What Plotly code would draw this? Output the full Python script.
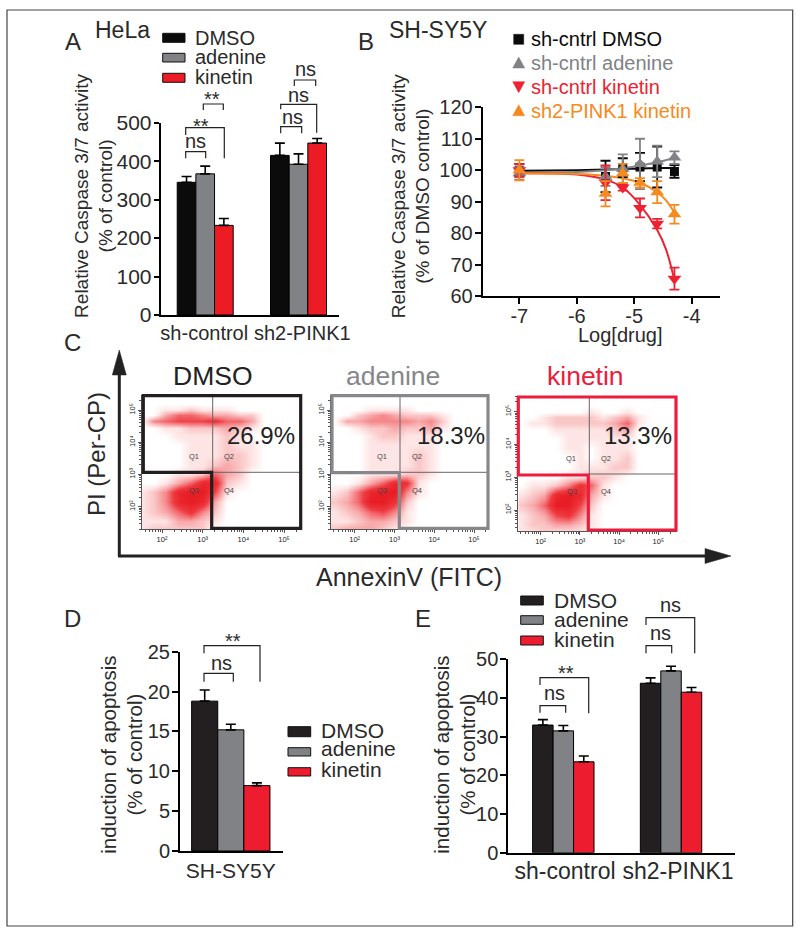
import plotly.graph_objects as go

W, H = 800, 933
TXT = "#2a2a2a"
FONT = "Liberation Sans"
BLK, GRY, RED = "#0b0b0b", "#808285", "#ed1c24"
DARK2, RED2, ORG = "#231f20", "#ed1c2e", "#f58a20"
GATE_COL = ["#231f20", "#85878a", "#ed1c3c"]

# ---------- data ----------
treat = ["DMSO", "adenine", "kinetin"]
groups = ["sh-control", "sh2-PINK1"]
a_dmso, a_aden, a_kin = [345, 415], [367, 392], [233, 447]
a_dmso_e, a_aden_e, a_kin_e = [15, 32], [20, 27], [18, 12]

e_dmso, e_aden, e_kin = [33, 43.8], [31.5, 47], [23.5, 41.5]
e_dmso_e, e_aden_e, e_kin_e = [1.4, 1.4], [1.4, 1.2], [1.5, 1.2]

d_group = ["SH-SY5Y"]
d_dmso, d_aden, d_kin = [18.8], [15.2], [8.2]
d_dmso_e, d_aden_e, d_kin_e = [1.4], [0.7], [0.35]

b_x = [-7, -5.5, -5.2, -4.9, -4.6, -4.3]
b_dmso = [100, 98, 100.8, 101, 101, 99.6]
b_dmso_e = [2, 5, 3, 4.5, 6.5, 2]
b_aden = [99, 98, 100.5, 102, 102.8, 104]
b_aden_e = [2, 3, 4.5, 8, 5, 2]
b_kin = [100, 96, 94.5, 88, 83, 65.5]
b_kin_e = [2, 5.5, 1, 3, 1.5, 3.5]
b_sh2 = [100, 92.5, 99, 96, 93, 86]
b_sh2_e = [3.2, 4, 3, 1.5, 3.5, 3]

fit_x = [-7, -6, -5.5, -5.2, -4.9, -4.6, -4.45, -4.3]
fit_dmso = [99.8, 100, 100.2, 100.4, 100.5, 100.7, 100.7, 100.8]
fit_aden = [99, 99.4, 100, 100.6, 101.4, 102.5, 103.2, 104]
fit_kin = [99, 98.6, 97, 94.5, 89, 81, 75, 65]
fit_sh2 = [99, 98.8, 98.2, 97.4, 96, 93, 90.5, 86.5]

# flow cytometry density (0 empty .. 9 solid red), top row first
flow_x = [1.5, 1.8, 2.1, 2.4, 2.7, 3.0, 3.3, 3.6, 3.9, 4.2, 4.5, 4.8, 5.1, 5.4]
flow_y = [5.5, 5.2, 5.0, 4.85, 4.65, 4.45, 4.2, 3.9, 3.6, 3.3, 3.0, 2.75, 2.45, 2.15, 1.85, 1.55, 1.3]
flow_dmso = [
    [0, 0, 0, 0, 0, 0, 0, 0, 0, 0, 0, 0, 0, 0],
    [0, 0, 0, 0, 0, 0, 0, 0, 0, 0, 0, 0, 0, 0],
    [0, 0, 1, 1, 2, 1, 1, 1, 0, 0, 0, 0, 0, 0],
    [0, 0, 3, 5, 5, 4, 3, 3, 2, 2, 0, 0, 0, 0],
    [0, 4, 5, 6, 6, 6, 7, 5, 5, 3, 0, 0, 0, 0],
    [0, 0, 1, 1, 2, 2, 2, 3, 2, 1, 0, 0, 0, 0],
    [0, 0, 0, 1, 1, 1, 1, 2, 1, 0, 0, 0, 0, 0],
    [0, 0, 0, 0, 1, 1, 1, 2, 1, 1, 0, 0, 0, 0],
    [0, 0, 0, 0, 1, 1, 1, 2, 2, 1, 0, 0, 0, 0],
    [0, 0, 0, 0, 1, 1, 2, 3, 2, 1, 0, 0, 0, 0],
    [0, 0, 0, 1, 1, 2, 5, 3, 2, 0, 0, 0, 0, 0],
    [0, 0, 1, 3, 5, 8, 8, 2, 1, 0, 0, 0, 0, 0],
    [1, 2, 4, 8, 9, 9, 6, 1, 0, 0, 0, 0, 0, 0],
    [1, 2, 4, 8, 9, 8, 3, 0, 0, 0, 0, 0, 0, 0],
    [1, 2, 3, 5, 7, 4, 2, 0, 0, 0, 0, 0, 0, 0],
    [1, 1, 1, 3, 3, 2, 1, 0, 0, 0, 0, 0, 0, 0],
    [1, 2, 2, 2, 2, 2, 0, 0, 0, 0, 0, 0, 0, 0],
]
flow_aden = [
    [0, 0, 0, 0, 0, 0, 0, 0, 0, 0, 0, 0, 0, 0],
    [0, 0, 0, 0, 0, 0, 0, 0, 0, 0, 0, 0, 0, 0],
    [0, 0, 0, 1, 1, 1, 1, 0, 0, 0, 0, 0, 0, 0],
    [0, 0, 2, 3, 4, 3, 2, 2, 2, 1, 0, 0, 0, 0],
    [0, 3, 3, 4, 4, 4, 4, 3, 4, 2, 0, 0, 0, 0],
    [0, 0, 1, 2, 2, 3, 2, 2, 3, 1, 0, 0, 0, 0],
    [0, 0, 0, 1, 2, 2, 1, 1, 1, 0, 0, 0, 0, 0],
    [0, 0, 0, 1, 1, 1, 1, 1, 1, 0, 0, 0, 0, 0],
    [0, 0, 0, 1, 1, 1, 1, 2, 1, 0, 0, 0, 0, 0],
    [0, 0, 0, 1, 1, 1, 1, 2, 1, 0, 0, 0, 0, 0],
    [0, 0, 0, 1, 1, 1, 2, 2, 1, 0, 0, 0, 0, 0],
    [0, 0, 1, 3, 5, 8, 7, 1, 0, 0, 0, 0, 0, 0],
    [1, 2, 5, 8, 9, 9, 4, 1, 0, 0, 0, 0, 0, 0],
    [2, 3, 5, 9, 9, 7, 2, 0, 0, 0, 0, 0, 0, 0],
    [1, 2, 3, 5, 6, 4, 1, 0, 0, 0, 0, 0, 0, 0],
    [1, 1, 2, 3, 3, 2, 1, 0, 0, 0, 0, 0, 0, 0],
    [2, 3, 3, 3, 2, 1, 0, 0, 0, 0, 0, 0, 0, 0],
]
flow_kin = [
    [0, 0, 0, 0, 0, 0, 0, 0, 0, 0, 0, 0, 0, 0],
    [0, 0, 0, 0, 0, 0, 0, 0, 0, 0, 0, 0, 0, 0],
    [0, 0, 0, 0, 0, 0, 1, 0, 0, 1, 0, 0, 0, 0],
    [0, 0, 1, 2, 2, 2, 2, 1, 2, 3, 1, 0, 0, 0],
    [0, 1, 1, 2, 2, 2, 2, 2, 3, 5, 1, 0, 0, 0],
    [0, 0, 0, 1, 1, 1, 1, 1, 2, 3, 0, 0, 0, 0],
    [0, 0, 0, 0, 1, 1, 1, 1, 1, 1, 0, 0, 0, 0],
    [0, 0, 0, 0, 1, 1, 0, 1, 1, 1, 0, 0, 0, 0],
    [0, 0, 0, 0, 0, 1, 0, 1, 1, 2, 0, 0, 0, 0],
    [0, 0, 0, 0, 0, 1, 1, 1, 2, 2, 0, 0, 0, 0],
    [0, 0, 0, 0, 1, 1, 2, 2, 1, 0, 0, 0, 0, 0],
    [0, 1, 1, 2, 4, 7, 5, 1, 0, 0, 0, 0, 0, 0],
    [1, 2, 3, 8, 9, 8, 3, 1, 0, 0, 0, 0, 0, 0],
    [2, 3, 5, 9, 9, 6, 2, 0, 0, 0, 0, 0, 0, 0],
    [1, 2, 3, 6, 7, 4, 1, 0, 0, 0, 0, 0, 0, 0],
    [1, 2, 2, 3, 3, 2, 1, 0, 0, 0, 0, 0, 0, 0],
    [1, 1, 2, 1, 1, 1, 0, 0, 0, 0, 0, 0, 0, 0],
]
flow_pct = ["26.9%", "18.3%", "13.3%"]
flow_ticks = [2, 3, 4, 5]
flow_ticktext = ["10²", "10³", "10⁴", "10⁵"]


# ---------- helpers ----------
def X(p): return p / W
def Y(p): return 1 - p / H

fig = go.Figure()
shapes, ann = [], []


def text(x, y, s, size=20, color=TXT, angle=0, anchor="center"):
    ann.append(dict(x=X(x), y=Y(y), xref="paper", yref="paper", text=s, showarrow=False,
                    xanchor=anchor, yanchor="middle", textangle=angle,
                    font=dict(size=size, color=color, family=FONT)))


def line(x0, y0, x1, y1, color="#222", width=1.2):
    shapes.append(dict(type="line", xref="paper", yref="paper", x0=X(x0), y0=Y(y0), x1=X(x1), y1=Y(y1),
                       line=dict(color=color, width=width)))


def poly(pts, fill=None, color="#222", width=1.0):
    path = "M " + " L ".join(f"{X(a):.5f},{Y(b):.5f}" for a, b in pts) + " Z"
    shapes.append(dict(type="path", xref="paper", yref="paper", path=path,
                       fillcolor=fill if fill else "rgba(0,0,0,0)",
                       line=dict(color=color, width=width)))


def bracket(x0, x1, top, y0, y1, label, lx, ly, size=20):
    pts = [(x0, y0), (x0, top), (x1, top), (x1, y1)]
    shapes.append(dict(type="path", xref="paper", yref="paper",
                       path="M " + " L ".join(f"{X(a):.5f},{Y(b):.5f}" for a, b in pts),
                       line=dict(color="#222", width=1.2)))
    text(lx, ly + (4 if label == "**" else 0), label, size=size)


def swatches(x0, x1, rows, tx, ty, cols, size=20):
    for (a, b), c in zip(rows, cols):
        shapes.append(dict(type="rect", xref="paper", yref="paper", x0=X(x0), x1=X(x1), y0=Y(b), y1=Y(a),
                           fillcolor=c, line=dict(color="#111", width=1)))
    for t, y in zip(treat, ty):
        text(tx, y, t, size=size, anchor="left")


def bar_panel(ax, names, tickpos, series, errs, cols, gw, left, right, top, bottom, xr, yr, ytick,
              ticklen=6, xfont=20, yfont=20, xoff=2):
    n = str(ax) if ax > 1 else ""
    pos = list(range(len(names)))
    for i, (v, e, c, t) in enumerate(zip(series, errs, cols, treat)):
        fig.add_trace(go.Bar(x=pos, y=v, name=t, marker=dict(color=c, line=dict(color="#000", width=1)),
                             width=gw / 3, offset=-gw / 2 + i * gw / 3, showlegend=False,
                             error_y=dict(type="data", array=e, arrayminus=[0] * len(e), symmetric=False,
                                          color="#000", thickness=1.6, width=5),
                             xaxis="x" + n, yaxis="y" + n))
    fig.update_layout({
        "xaxis" + n: dict(domain=[X(left), X(right)], range=xr, anchor="y" + n, tickvals=tickpos, ticktext=names,
                          showline=True, linecolor="#000", linewidth=2, ticks="", tickangle=0,
                          tickfont=dict(size=xfont, color=TXT, family=FONT), showgrid=False, zeroline=False,
                          ticklabelstandoff=xoff),
        "yaxis" + n: dict(domain=[Y(bottom), Y(top)], range=yr, anchor="x" + n, dtick=ytick,
                          showline=True, linecolor="#000", linewidth=2, ticks="outside", ticklen=ticklen, tickwidth=2,
                          tickcolor="#000", tickfont=dict(size=yfont, color=TXT, family=FONT),
                          showgrid=False, zeroline=False, ticklabelstandoff=-2),
    })


# ---------- panel A ----------
bar_panel(1, groups, [-0.01, 1.04], [a_dmso, a_aden, a_kin], [a_dmso_e, a_aden_e, a_kin_e], [BLK, GRY, RED], 0.6,
          160.7, 339, 122.7, 315, [-0.477, 1.434], [0, 500], 100, ticklen=5, yfont=21, xoff=-1)
text(93.2, 195.7, "Relative Caspase 3/7 activity<br>(% of control)", size=19, angle=-90)
swatches(162.7, 185, [(33.3, 42.3), (53.3, 62), (73.3, 82.3)], 193, [38, 57, 77], [BLK, GRY, RED])
bracket(185.7, 205.7, 151.7, 158.3, 158.3, "ns", 195.7, 140.7)
bracket(185.7, 224.3, 127.7, 135, 158.3, "**", 201, 121.7)
bracket(203.3, 223.3, 104, 110, 110, "**", 212.3, 95)
bracket(280.7, 301.7, 126.7, 133.3, 133.3, "ns", 292.7, 117)
bracket(280.7, 316.7, 104.3, 109.3, 132.7, "ns", 298, 95)
bracket(294.3, 315.7, 80, 86, 86, "ns", 305, 69)

# ---------- panel B ----------
bfits = [(fit_dmso, BLK), (fit_aden, GRY), (fit_kin, "#ed2233"), (fit_sh2, ORG)]
for f, c in bfits:
    fig.add_trace(go.Scatter(x=fit_x, y=f, mode="lines", line=dict(color=c, width=2, shape="spline"),
                             showlegend=False, xaxis="x2", yaxis="y2"))
bpts = [("sh-cntrl DMSO", b_dmso, b_dmso_e, BLK, "square", 9),
        ("sh-cntrl adenine", b_aden, b_aden_e, GRY, "triangle-up", 12),
        ("sh-cntrl kinetin", b_kin, b_kin_e, "#ed2233", "triangle-down", 12),
        ("sh2-PINK1 kinetin", b_sh2, b_sh2_e, ORG, "triangle-up", 12)]
for name, v, e, c, sym, sz in bpts:
    fig.add_trace(go.Scatter(x=b_x, y=v, mode="markers", name=name, showlegend=False,
                             marker=dict(color=c, symbol=sym, size=sz),
                             error_y=dict(type="data", array=e, color=c, thickness=1.8, width=5),
                             cliponaxis=False, xaxis="x2", yaxis="y2"))
fig.update_layout(
    xaxis2=dict(domain=[X(482.7), X(720)], range=[-7.638, -3.507], anchor="y2", tickvals=[-7, -6, -5, -4],
                ticktext=["-7", "-6", "-5", "-4"], showline=True, linecolor="#000", linewidth=2,
                ticks="outside", ticklen=6, tickwidth=2, tickcolor="#000", showgrid=False, zeroline=False,
                tickfont=dict(size=20, color=TXT, family=FONT), tickangle=0, ticklabelstandoff=-5),
    yaxis2=dict(domain=[Y(296), Y(107.3)], range=[60, 120], anchor="x2", dtick=10, showline=True, linecolor="#000",
                linewidth=2, ticks="outside", ticklen=6, tickwidth=2, tickcolor="#000", showgrid=False, zeroline=False,
                tickfont=dict(size=20, color=TXT, family=FONT), ticklabelstandoff=-2),
)
text(620, 335, "Log[drug]", size=20)
text(410.5, 196.7, "Relative Caspase 3/7 activity<br>(% of DMSO control)", size=19, angle=-90)
# legend B
leg_y = [39.3, 63, 86.7, 110.7]
leg_c = [BLK, GRY, "#ed2233", ORG]
for (name, *_), y, c in zip(bpts, leg_y, leg_c):
    text(529, y, name, size=20, color=c, anchor="left")
lx = 518.7
poly([(lx - 5, leg_y[0] - 5), (lx + 5, leg_y[0] - 5), (lx + 5, leg_y[0] + 5), (lx - 5, leg_y[0] + 5)], BLK, BLK, 0.5)
poly([(lx - 6, leg_y[1] + 5), (lx + 6, leg_y[1] + 5), (lx, leg_y[1] - 6)], GRY, GRY, 0.5)
poly([(lx - 6, leg_y[2] - 5), (lx + 6, leg_y[2] - 5), (lx, leg_y[2] + 6)], "#ed2233", "#ed2233", 0.5)
poly([(lx - 6, leg_y[3] + 5), (lx + 6, leg_y[3] + 5), (lx, leg_y[3] - 6)], ORG, ORG, 0.5)

# ---------- panel D ----------
bar_panel(3, d_group, [0], [d_dmso, d_aden, d_kin], [d_dmso_e, d_aden_e, d_kin_e], [DARK2, GRY, RED2], 0.783,
          180, 282.7, 651.7, 851, [-0.508, 0.519], [0, 25], 5, xfont=21, xoff=0)
text(121.8, 755, "induction of apoptosis<br>(% of control)", size=20.5, angle=-90)
swatches(288, 310.7, [(726.7, 736.7), (747.7, 756), (767.7, 776)], 319, [730, 748.7, 769], [DARK2, GRY, RED2], 21)
bracket(204, 233.3, 673.3, 681.7, 681.7, "ns", 221, 662.7)
bracket(204, 260, 645.7, 653.3, 681.7, "**", 233, 636.7)

# ---------- panel E ----------
bar_panel(4, groups, [0.016, 1.065], [e_dmso, e_aden, e_kin], [e_dmso_e, e_aden_e, e_kin_e], [DARK2, GRY, RED2], 0.57,
          508.3, 735, 659.3, 852.7, [-0.511, 1.594], [0, 50], 10, xfont=23, xoff=-3)
text(454.7, 755, "induction of apoptosis<br>(% of control)", size=20.5, angle=-90)
swatches(520.7, 543.3, [(596, 605), (615.7, 624.3), (636, 645)], 552, [600, 619.3, 639.3], [DARK2, GRY, RED2], 21)
bracket(540, 565.7, 705.7, 712.7, 712.7, "ns", 554, 692.7)
bracket(540, 588.7, 677.7, 685, 713.3, "**", 565.7, 669.3)
bracket(646, 671.7, 645.7, 653.3, 653.3, "ns", 660, 633.3)
bracket(646, 694.7, 617.7, 625, 653.3, "ns", 670.7, 605.3)

# ---------- panel C ----------
flows = [
    dict(z=flow_dmso, l=141.7, r=300.7, t=395, b=529.3, tx=(162, 203, 243, 284), ty=(410, 441.7, 474, 506.7),
         g=(143.3, 300.7, 395.7, 528.3, 211.7, 472.3), q=(212.7, 472.3),
         ql=((194.3, 456.7), (229, 456.7), (194.3, 490.7), (229, 490.7)), pc=(260.7, 435)),
    dict(z=flow_aden, l=330.7, r=488, t=395, b=529.3, tx=(354.7, 394, 432.7, 474), ty=(410, 441.7, 474, 506.7),
         g=(332, 488, 395.7, 528.3, 399.3, 472.7), q=(400, 472.3),
         ql=((381.7, 456.7), (416.7, 456.7), (382, 490.7), (416.7, 490.7)), pc=(450.7, 435)),
    dict(z=flow_kin, l=518.3, r=676.7, t=396, b=531, tx=(540.7, 579.3, 618.3, 658.3), ty=(411.7, 443.3, 476.7, 510),
         g=(518.3, 676, 397, 530, 588.3, 475), q=(589.3, 474),
         ql=((570.7, 458), (606, 458), (571.7, 491.7), (606, 491.7)), pc=(637.7, 435)),
]
minors = [k + d for k in range(1, 6) for d in
          (0.301, 0.477, 0.602, 0.699, 0.778, 0.845, 0.903, 0.954)]
colorscale = [[0, "#ffffff"], [0.12, "#fde3e3"], [0.35, "#f7a3a5"], [0.7, "#ee3a40"], [1, "#e81c24"]]
for i, f in enumerate(flows):
    xk = "x" + str(5 + i)
    yk = "y" + str(5 + i)
    pdx = (f["tx"][3] - f["tx"][0]) / 3
    pdy = (f["ty"][3] - f["ty"][0]) / 3
    xr = [2 + (f["l"] - f["tx"][0]) / pdx, 2 + (f["r"] - f["tx"][0]) / pdx]
    yr = [2 - (f["b"] - f["ty"][3]) / pdy, 2 + (f["ty"][3] - f["t"]) / pdy]
    fig.add_trace(go.Heatmap(x=flow_x, y=flow_y[::-1], z=f["z"][::-1], zmin=0, zmax=9, colorscale=colorscale,
                             zsmooth="best", showscale=False, hoverinfo="skip", xaxis=xk, yaxis=yk))
    common = dict(showline=True, linecolor="#555", linewidth=1, ticks="outside", ticklen=3, tickwidth=1,
                  tickcolor="#555", showgrid=False, zeroline=False, tickvals=flow_ticks, ticktext=flow_ticktext,
                  tickfont=dict(size=7.5, color="#222", family=FONT), ticklabelstandoff=0,
                  minor=dict(tickvals=minors, ticks="outside", ticklen=2, tickwidth=0.7, tickcolor="#555"))
    fig.update_layout({
        "xaxis" + str(5 + i): dict(domain=[X(f["l"]), X(f["r"])], range=xr, anchor=yk, tickangle=0, **common),
        "yaxis" + str(5 + i): dict(domain=[Y(f["b"]), Y(f["t"])], range=yr, anchor=xk, tickangle=-90, **common),
    })
    l, r, t, b, gx, gy = f["g"]
    qx, qy = f["q"]
    line(qx, t, qx, qy, "#666", 1)
    line(qx, qy, r, qy, "#666", 1)
    poly([(l, t), (r, t), (r, b), (gx, b), (gx, gy), (l, gy)], None, GATE_COL[i], 3.2)
    for lbl, (a, c) in zip(("Q1", "Q2", "Q3", "Q4"), f["ql"]):
        text(a, c, lbl, size=7.5, color="#444")
    text(f["pc"][0], f["pc"][1], flow_pct[i], size=24, color="#222")

text(213, 376, "DMSO", size=26.5, color="#222")
text(393, 376, "adenine", size=26.5, color="#85878a")
text(585, 376, "kinetin", size=26.5, color="#ed1c3c")

# arrows and their titles
line(119.3, 556, 119.3, 372, "#222", 3)
line(118, 556, 708, 556, "#222", 3)
poly([(112.3, 375), (126.3, 375), (119.3, 350)], "#222", "#222", 0.5)
poly([(705, 548.5), (705, 563.5), (731, 556)], "#222", "#222", 0.5)
text(96, 454, "PI (Per-CP)", size=24, angle=-90)
text(409, 577, "AnnexinV (FITC)", size=25)

# panel letters and cell lines
for s, x, y in (("A", 72.5, 42), ("B", 365.5, 42), ("C", 72.5, 343), ("D", 72, 618), ("E", 423, 618)):
    text(x, y, s, size=24)
text(122, 30, "HeLa", size=23)
text(437.5, 30, "SH-SY5Y", size=23)

# figure frame
shapes.append(dict(type="rect", xref="paper", yref="paper", x0=X(7), x1=X(792.7), y0=Y(926), y1=Y(10),
                   line=dict(color="#444", width=1.2), layer="below"))

fig.update_layout(template="none", width=W, height=H, margin=dict(l=0, r=0, t=0, b=0), barmode="overlay",
                  plot_bgcolor="rgba(0,0,0,0)", paper_bgcolor="white",
                  font=dict(family=FONT, color=TXT), shapes=shapes, annotations=ann, showlegend=False)
fig.write_html("out.html", config={"displayModeBar": False}, post_script="document.body.style.margin='0';")
